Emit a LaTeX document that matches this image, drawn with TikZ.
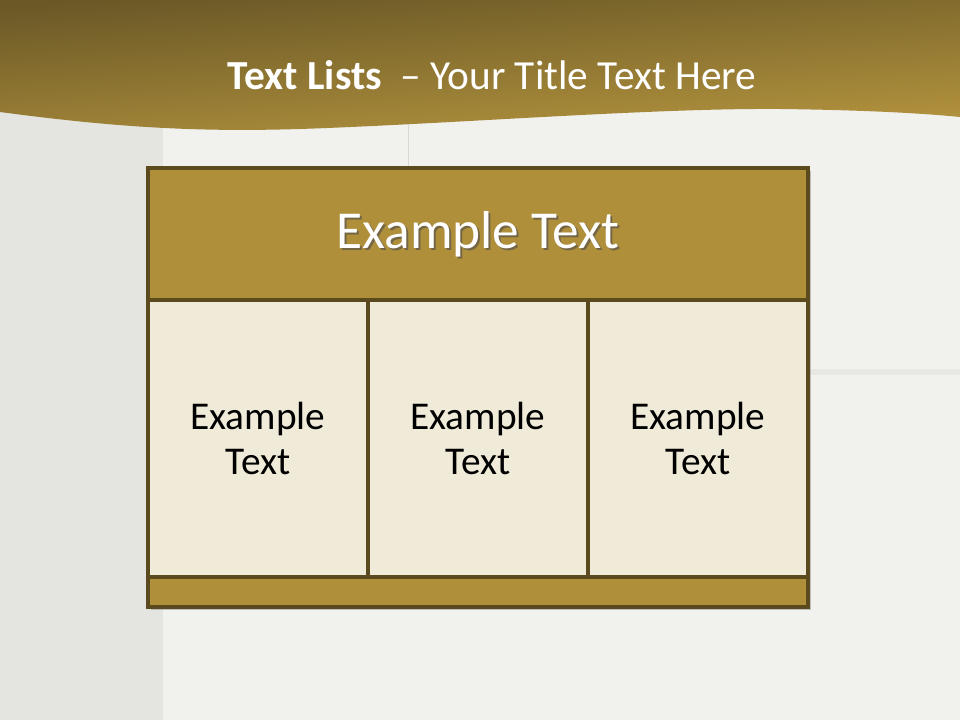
\documentclass[tikz,border=0pt]{standalone}
\usepackage{fontspec}
\setmainfont{Carlito}
\usepackage{tikz}
\usetikzlibrary{positioning}
\definecolor{bandtop}{RGB}{106,88,38}
\definecolor{bandgold}{RGB}{180,148,62}
\definecolor{wallleft}{RGB}{228,228,224}
\definecolor{wallmain}{RGB}{241,241,238}
\definecolor{headfill}{RGB}{176,143,59}
\definecolor{tableborder}{RGB}{91,74,30}
\definecolor{cellfill}{RGB}{240,234,216}

\tikzset{
  cellbox/.style={draw=tableborder, line width=2.6pt, fill=cellfill,
    inner sep=0pt, outer sep=0pt, align=center,
    minimum width=165pt, minimum height=207.75pt,
    font=\fontsize{29.5}{34}\selectfont},
  headbox/.style={cellbox, fill=headfill, minimum width=495pt,
    minimum height=99pt},
  footbox/.style={cellbox, fill=headfill, minimum width=495pt,
    minimum height=22.5pt},
}

\begin{document}
\begin{tikzpicture}[x=0.75pt, y=-0.75pt]
  \useasboundingbox (0,0) rectangle (960,720);
  % Background wall
  \fill[wallmain] (0,0) rectangle (960,720);
  \fill[wallleft] (0,0) rectangle (163,720);
  \fill[wallmain!96!black] (810,369) rectangle (960,375);
  \draw[black!15, line width=0.6pt] (408,120) -- (408,166);
  % Title band
  \shade[top color=bandtop, bottom color=bandgold, shading angle=4]
    (0,0) -- (960,0) -- (960,117)
    .. controls (920,113) and (860,110) .. (780,109)
    .. controls (650,108) and (450,124) .. (300,129)
    .. controls (200,132) and (120,128) .. (0,112) -- cycle;
  \node[text=white, font=\fontsize{31}{37}\selectfont] (title) at (492,75)
    {\textbf{Text Lists}~~– Your Title Text Here};
  % Table
  \fill[black!45, opacity=0.5] (151,171) rectangle (811,610);
  \node[headbox, anchor=north west] (head) at (148,168) {};
  \node[black!70, opacity=0.6, font=\fontsize{40}{46}\selectfont]
    at ([xshift=1.5pt, yshift=-1.5pt]head.center) {Example Text};
  \node[white, font=\fontsize{40}{46}\selectfont] (headtext) at (head.center)
    {Example Text};
  \node[cellbox, below right=0pt and 0pt of head.south west] (cellA)
    {Example\\Text};
  \node[cellbox, right=0pt of cellA] (cellB) {Example\\Text};
  \node[cellbox, right=0pt of cellB] (cellC) {Example\\Text};
  \node[footbox, below right=0pt and 0pt of cellA.south west] (foot) {};
\end{tikzpicture}
\end{document}
